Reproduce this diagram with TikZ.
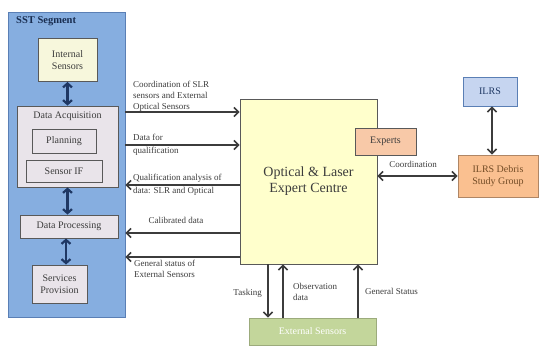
\documentclass[tikz,border=0pt]{standalone}
\usepackage{fontspec}
\setmainfont{Liberation Serif}
\usetikzlibrary{arrows.meta}
\definecolor{sstblue}{HTML}{86AEE0}
\definecolor{sstline}{HTML}{5A7FB5}
\definecolor{navy}{HTML}{1F3864}
\definecolor{paleyel}{HTML}{F7F7DC}
\definecolor{palegrey}{HTML}{E9E4EA}
\definecolor{ctryel}{HTML}{FFFFCC}
\definecolor{peach}{HTML}{F8C9A8}
\definecolor{orng}{HTML}{FAC090}
\definecolor{lblue}{HTML}{C6D5F0}
\definecolor{olive}{HTML}{C3D69B}
\definecolor{ink}{HTML}{3C3C3C}
\begin{document}
\begin{tikzpicture}[x=1pt, y=-1pt, font=\fontsize{10}{12}\selectfont,
    box/.style={draw=gray!70!black, line width=.9pt, inner sep=1pt, align=center, text=ink},
    flow/.style={draw=ink, line width=1.6pt, -{Straight Barb[length=4.5pt,width=9pt]}},
    both/.style={draw=ink, line width=1.6pt, {Straight Barb[length=4.5pt,width=9pt]}-{Straight Barb[length=4.5pt,width=9pt]}},
    link/.style={draw=navy, line width=2.2pt, {Straight Barb[length=4pt,width=9pt]}-{Straight Barb[length=4pt,width=9pt]}},
    lab/.style={font=\fontsize{9}{11}\selectfont, text=ink, inner sep=0pt, align=left}]
  \useasboundingbox (0,0) rectangle (539,347);

  % SST segment
  \node[box, draw=sstline, fill=sstblue, minimum width=117pt, minimum height=305pt] (sst) at (66.5,164.5) {};
  \node[anchor=north west, inner sep=0pt, font=\fontsize{10.5}{12}\selectfont\bfseries, text=navy!80!black] (ssttitle) at (16,16) {SST Segment};
  \node[box, fill=paleyel, minimum width=59pt, minimum height=43pt] (ints) at (67.5,60) {Internal\\Sensors};
  \node[box, fill=palegrey, minimum width=101pt, minimum height=81pt] (acq) at (67.5,146.5) {};
  \node[anchor=north, inner sep=0pt, text=ink] (acqlab) at (67.5,112) {Data Acquisition};
  \node[box, fill=palegrey, minimum width=64pt, minimum height=24pt] (plan) at (64,141) {Planning};
  \node[box, fill=palegrey, minimum width=76pt, minimum height=22pt] (sif) at (64,171) {Sensor IF};
  \node[box, fill=palegrey, minimum width=98pt, minimum height=23pt] (proc) at (69,226.5) {Data Processing};
  \node[box, fill=palegrey, minimum width=55pt, minimum height=38pt] (srv) at (59.5,284) {Services\\Provision};
  \draw[link] (ints.south) -- (ints.south |- acq.north);
  \draw[link] (acq.south) -- (acq.south |- proc.north);
  \draw[link] (srv.north -| 66,0) -- (proc.south -| 66,0);

  % expert centre and partners
  \node[box, fill=ctryel, minimum width=137pt, minimum height=165pt, font=\fontsize{14}{16}\selectfont] (ctr) at (308.5,181.5) {Optical \& Laser\\Expert Centre};
  \node[box, fill=peach, minimum width=61pt, minimum height=27pt] (exp) at (385.5,141.5) {Experts};
  \node[box, fill=lblue, draw=sstline, minimum width=54pt, minimum height=29pt, text=navy] (ilrs) at (490,91.5) {ILRS};
  \node[box, fill=orng, draw=orng!70!black, minimum width=80pt, minimum height=42pt, text=brown!60!black] (ilrsg) at (498,176) {ILRS Debris\\Study Group};
  \node[box, fill=olive, draw=olive!80!black, minimum width=127pt, minimum height=27pt, text=white] (ext) at (312.5,331.5) {External Sensors};

  % flows SST <-> centre
  \draw[flow] (sst.east |- 0,112) -- (ctr.west |- 0,112);
  \draw[flow] (sst.east |- 0,145) -- (ctr.west |- 0,145);
  \draw[flow] (ctr.west |- 0,185) -- (sst.east |- 0,185);
  \draw[flow] (ctr.west |- 0,233) -- (sst.east |- 0,233);
  \draw[flow] (ctr.west |- 0,257) -- (sst.east |- 0,257);
  \node[lab, anchor=north west] (l1) at (133,81) {Coordination of SLR\\sensors and External\\Optical Sensors};
  \node[lab, anchor=north west] (l2) at (133,134) {Data for\\[2pt]qualification};
  \node[lab, anchor=north west] (l3) at (133,174) {Qualification analysis of\\[2pt]data: SLR and Optical};
  \node[lab, anchor=base] (l4) at (176,224) {Calibrated data};
  \node[lab, anchor=north west] (l5) at (134,260) {General status of\\External Sensors};

  % flows centre <-> others
  \draw[both] (ctr.east |- ilrsg) -- (ilrsg.west);
  \node[lab] (lco) at (413,164) {Coordination};
  \draw[both] (ilrs.south -| 492,0) -- (ilrsg.north -| 492,0);
  \draw[flow] (ctr.south -| 268,0) -- (ext.north -| 268,0);
  \draw[flow] (ext.north -| 283,0) -- (ctr.south -| 283,0);
  \draw[flow] (ext.north -| 358,0) -- (ctr.south -| 358,0);
  \node[lab, anchor=east] (lt) at (262,293) {Tasking};
  \node[lab, anchor=west] (lo) at (293,292) {Observation\\data};
  \node[lab, anchor=west] (lg) at (365,291) {General Status};
\end{tikzpicture}
\end{document}
